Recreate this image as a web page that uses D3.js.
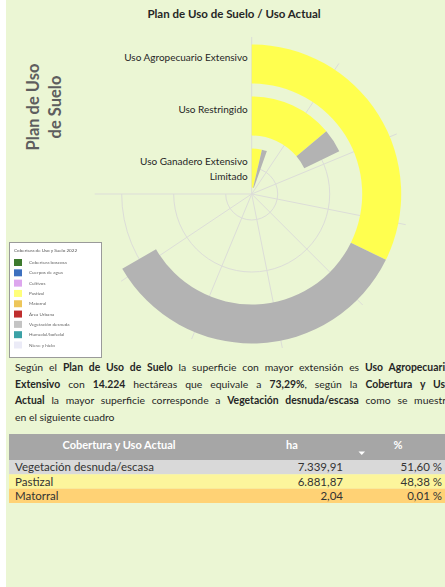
<!DOCTYPE html>
<html><head><meta charset="utf-8">
<script src="https://cdn.jsdelivr.net/npm/d3@7"></script>
<style>
body{margin:0;background:#fff}
svg{display:block;font-family:Lato,"Open Sans",sans-serif}
text{white-space:pre}
</style>
</head><body>
<svg id="chart" width="445" height="587"></svg>
<script>
// ---- data ----
const categories = ["Uso Agropecuario Extensivo", "Uso Restringido", "Uso Ganadero Extensivo Limitado"];
const categoryLabelLines = [["Uso Agropecuario Extensivo"], ["Uso Restringido"], ["Uso Ganadero Extensivo", "Limitado"]];
const pastizal = [6881.87, 2960, 770];
const vegetacionDesnuda = [7339.91, 830, 385];
const seriesKeys = ["Pastizal", "Vegetación desnuda/escasa"];
const seriesColors = ["#FFFF4F", "#B3B3B3"];
const angleMax = 16000;
const angleTickStep = 2000;

const legendTitle = "Cobertura de Uso y Suelo 2022";
const legendItems = ["Cobertura boscosa", "Cuerpos de agua", "Cultivos", "Pastizal", "Matorral",
  "Área Urbana", "Vegetación desnuda", "Humedal/bofedal", "Nieve y hielo"];
const legendColors = ["#3E7A2E", "#3D6FBF", "#DDA6EE", "#FFFF7A", "#EDC65A", "#BF2F2F", "#C4C4C4", "#3BA1A6", "#EBEBF7"];

const tableHeader = ["Cobertura y Uso Actual", "ha", "%"];
const tableRows = ["Vegetación desnuda/escasa", "Pastizal", "Matorral"];
const tableHa = ["7.339,91", "6.881,87", "2,04"];
const tablePct = ["51,60 %", "48,38 %", "0,01 %"];
const tableRowColors = ["#D9D9D9", "#FCF59C", "#FFD275"];

// ---- page ----
const svg = d3.select("#chart");
svg.append("rect").attr("x", 6).attr("y", 0).attr("width", 439).attr("height", 587).attr("fill", "#EBF6D4");

svg.append("text").attr("x", 234).attr("y", 17.5).attr("text-anchor", "middle")
  .attr("font-size", 11.5).attr("font-weight", 700).attr("fill", "#262626")
  .text("Plan de Uso de Suelo / Uso Actual");

// vertical axis title
const yTitle = svg.append("text").attr("transform", "translate(39,107) rotate(-90)")
  .attr("text-anchor", "middle").attr("font-size", 16.5).attr("font-weight", 700).attr("fill", "#5E5E5E");
yTitle.append("tspan").attr("x", 0).attr("dy", 0).text("Plan de Uso");
yTitle.append("tspan").attr("x", 0).attr("dy", 22.4).text("de Suelo");

// ---- radial stacked bars ----
const rows = categories.map((c, i) => ({cat: c, "Pastizal": pastizal[i], "Vegetación desnuda/escasa": vegetacionDesnuda[i]}));
const stacked = d3.stack().keys(seriesKeys)(rows);

const g = svg.append("g").attr("transform", "translate(251.7,194)");
const r = d3.scaleBand().domain(categories.slice().reverse()).range([0, 156])
  .paddingInner(0.25).paddingOuter(0.125);
const a = d3.scaleLinear().domain([0, angleMax]).range([0, 1.5 * Math.PI]);

// grid: spokes and arcs at band centres
const spokeLen = r.range()[1] + 1;
g.append("g").selectAll("line").data(d3.range(0, angleMax + 1, angleTickStep)).join("line")
  .attr("x1", 0).attr("y1", 0)
  .attr("x2", d => Math.sin(a(d)) * spokeLen).attr("y2", d => -Math.cos(a(d)) * spokeLen)
  .attr("stroke", "#DCDDD8").attr("stroke-width", 1);
g.append("g").selectAll("path").data(categories).join("path")
  .attr("d", d => {
    const p = d3.path();
    const rad = r(d) + r.bandwidth() / 2;
    p.arc(0, 0, rad, a(0) - Math.PI / 2, a(angleMax) - Math.PI / 2);
    return p.toString();
  })
  .attr("fill", "none").attr("stroke", "#DCDDD8").attr("stroke-width", 1);

const arc = d3.arc()
  .innerRadius(d => r(d.data.cat))
  .outerRadius(d => r(d.data.cat) + r.bandwidth())
  .startAngle(d => a(d[0]))
  .endAngle(d => a(d[1]));

g.append("g").selectAll("g").data(stacked).join("g")
  .attr("fill", (d, i) => seriesColors[i])
  .selectAll("path").data(d => d).join("path")
  .attr("d", arc);

// category labels
const lab = g.append("g").attr("font-size", 10).attr("fill", "#262626").attr("text-anchor", "end");
categories.forEach((c, i) => {
  const yc = -(r(c) + r.bandwidth() / 2);
  const t = lab.append("text").attr("x", -4).attr("y", yc - 3);
  categoryLabelLines[i].forEach((ln, j) => t.append("tspan").attr("x", -4).attr("dy", j ? 14.5 : 0).text(ln));
});

// ---- legend panel ----
const blur = svg.append("defs").append("filter").attr("id", "soft");
blur.append("feGaussianBlur").attr("stdDeviation", 0.45);
const lg = svg.append("g").attr("filter", "url(#soft)");
lg.append("rect").attr("x", 9.5).attr("y", 242.5).attr("width", 92).attr("height", 115)
  .attr("fill", "#FFFFFF").attr("stroke", "#9A9A9A").attr("stroke-width", 1);
lg.append("text").attr("x", 14).attr("y", 252).attr("font-size", 4.6).attr("fill", "#555").text(legendTitle);
const legY = d3.scalePoint().domain(legendItems).range([262.5, 345]);
legendItems.forEach((d, i) => {
  lg.append("rect").attr("x", 14).attr("y", legY(d) - 3.5).attr("width", 8).attr("height", 7).attr("fill", legendColors[i]);
  lg.append("text").attr("x", 29).attr("y", legY(d) + 1.5).attr("font-size", 4.6).attr("fill", "#666").text(d);
});

// ---- paragraph ----
const para = [
  {segs: [["Según el ", 0], ["Plan de Uso de Suelo", 1], [" la superficie con mayor extensión es ", 0], ["Uso Agropecuario", 1]], justify: true},
  {segs: [["Extensivo", 1], [" con ", 0], ["14.224", 1], [" hectáreas que equivale a ", 0], ["73,29%", 1], [", según la ", 0], ["Cobertura y Uso", 1]], justify: true},
  {segs: [["Actual", 1], [" la mayor superficie corresponde a ", 0], ["Vegetación desnuda/escasa", 1], [" como se muestra", 0]], justify: true},
  {segs: [["en el siguiente cuadro", 0]], justify: false}
];
const pg = svg.append("g").attr("font-size", 10.4).attr("fill", "#262626");
para.forEach((ln, i) => {
  const t = pg.append("text").attr("x", 15).attr("y", 371 + i * 16.5);
  ln.segs.forEach(([s, b]) => t.append("tspan").attr("font-weight", b ? 700 : 400).text(s));
  if (ln.justify) {
    const natural = t.node().getComputedTextLength();
    const nSpaces = ln.segs.map(s => s[0]).join("").split(" ").length - 1;
    t.attr("word-spacing", Math.max(0, (436 - natural) / nSpaces));
  }
});

// ---- table ----
const tg = svg.append("g");
tg.append("rect").attr("x", 9).attr("y", 434).attr("width", 436).attr("height", 26).attr("fill", "#A6A6A6");
const headX = [119, 292, 398];
tableHeader.forEach((h, i) => tg.append("text").attr("x", headX[i]).attr("y", 449)
  .attr("text-anchor", "middle").attr("font-size", 11).attr("font-weight", 700).attr("fill", "#FFFFFF").text(h));
tg.append("path").attr("d", "M358.5,451.5 L365,451.5 L361.75,455 Z").attr("fill", "#FFFFFF");
const rowY = d3.scaleBand().domain(tableRows).range([460, 503]);
tableRows.forEach((d, i) => {
  const y0 = rowY(d), h = rowY.bandwidth();
  tg.append("rect").attr("x", 9).attr("y", y0).attr("width", 436).attr("height", h).attr("fill", tableRowColors[i]);
  const ty = y0 + h / 2 + 4;
  tg.append("text").attr("x", 15).attr("y", ty).attr("font-size", 11.5).attr("fill", "#333").text(d);
  tg.append("text").attr("x", 343).attr("y", ty).attr("text-anchor", "end").attr("font-size", 11.5).attr("fill", "#333").text(tableHa[i]);
  tg.append("text").attr("x", 442).attr("y", ty).attr("text-anchor", "end").attr("font-size", 11.5).attr("fill", "#333").text(tablePct[i]);
});
</script>
</body></html>
